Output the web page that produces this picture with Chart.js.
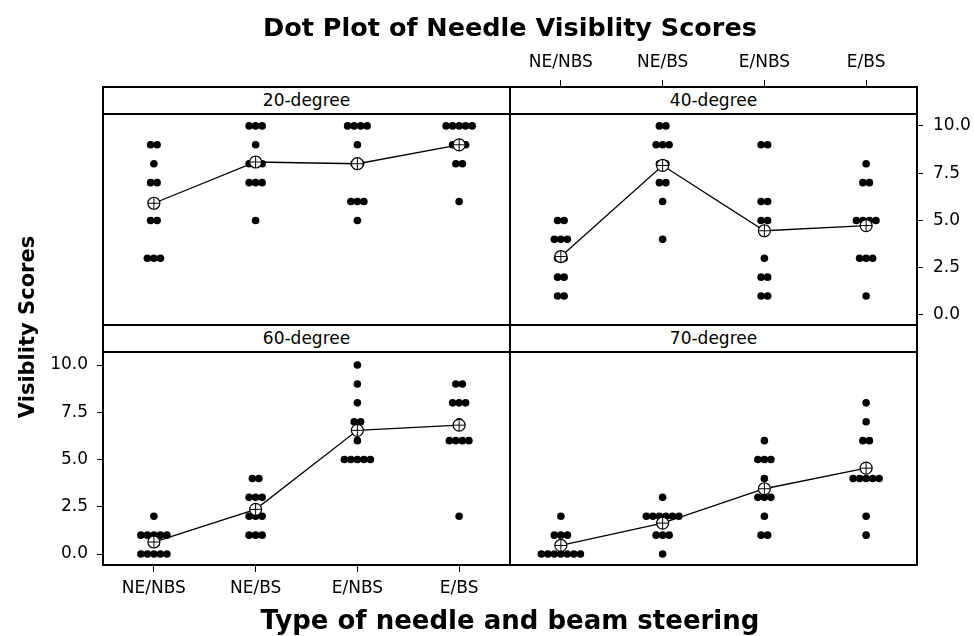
<!DOCTYPE html>
<html>
<head>
<meta charset="utf-8">
<title>Dot Plot of Needle Visiblity Scores</title>
<script src="https://cdn.jsdelivr.net/npm/chart.js@4.4.1/dist/chart.umd.min.js"></script>
<style>
  html, body { margin: 0; padding: 0; background: #fff; }
  #page {
    position: relative; width: 974px; height: 636px; overflow: hidden;
    font-family: 'DejaVu Sans', sans-serif; color: #000;
  }
  #page canvas { position: absolute; }
  .line { position: absolute; background: #000; }
  .strip {
    position: absolute; background: #fff; text-align: center;
    font-size: 17px; line-height: 27px;
  }
  .heading {
    position: absolute; text-align: center; font-weight: bold;
    line-height: 30px; white-space: nowrap;
  }
</style>
</head>
<body>
<div id="page">
  <div class="heading" style="left:103px; top:12px; width:814px; font-size:25.5px;">Dot Plot of Needle Visiblity Scores</div>
  <div class="heading" style="left:103px; top:605px; width:814px; font-size:26px;">Type of needle and beam steering</div>
  <div class="heading" style="left:-123px; top:312px; width:300px; font-size:21px; transform:rotate(-90deg);">Visiblity Scores</div>
</div>

<script>
// ---- data ----
const categories = ['NE/NBS', 'NE/BS', 'E/NBS', 'E/BS'];
const yTickValues = [0, 2.5, 5, 7.5, 10];
const panelLabels = ['20-degree', '40-degree', '60-degree', '70-degree'];

// visibility scores, one list per needle / beam steering type
const scores20 = [
    [9, 9, 8, 7, 7, 6, 5, 5, 3, 3, 3],
    [10, 10, 10, 9, 8, 8, 8, 7, 7, 7, 5],
    [10, 10, 10, 10, 9, 8, 8, 6, 6, 6, 5],
    [10, 10, 10, 10, 10, 9, 9, 9, 8, 8, 6]
];
const scores40 = [
    [5, 5, 4, 4, 4, 3, 3, 2, 2, 1, 1],
    [10, 10, 9, 9, 9, 8, 8, 7, 7, 6, 4],
    [9, 9, 6, 6, 5, 5, 3, 2, 2, 1, 1],
    [8, 7, 7, 5, 5, 5, 5, 3, 3, 3, 1]
];
const scores60 = [
    [2, 1, 1, 1, 1, 1, 0, 0, 0, 0, 0],
    [4, 4, 3, 3, 3, 2, 2, 2, 1, 1, 1],
    [10, 9, 8, 7, 7, 6, 5, 5, 5, 5, 5],
    [9, 9, 8, 8, 8, 7, 6, 6, 6, 6, 2]
];
const scores70 = [
    [2, 1, 1, 1, 0, 0, 0, 0, 0, 0, 0],
    [3, 2, 2, 2, 2, 2, 2, 1, 1, 1, 0],
    [6, 5, 5, 5, 4, 3, 3, 3, 2, 1, 1],
    [8, 7, 6, 6, 4, 4, 4, 4, 4, 2, 1]
];

// ---- layout (page pixels) ----
const FRAME_L = 103, FRAME_M = 510, FRAME_R = 917;
const STRIP1 = 87, PLOT1 = 114, STRIP2 = 325, PLOT2 = 352, FRAME_B = 565;
const Y_MIN = [-0.53, -0.58];
const Y_MAX = [10.63, 10.69];
const DOT_STEP = 0.064;   // horizontal spacing of tied dots, in category units
const FONT = { family: "'DejaVu Sans', sans-serif", size: 17 };

const page = document.getElementById('page');

function dotPoints(groups) {
    const pts = [];
    groups.forEach((vals, ci) => {
        const counts = {};
        vals.forEach(v => { counts[v] = (counts[v] || 0) + 1; });
        Object.keys(counts).forEach(k => {
            const n = counts[k];
            for (let i = 0; i < n; i++) {
                pts.push({ x: ci + (i - (n - 1) / 2) * DOT_STEP, y: Number(k) });
            }
        });
    });
    return pts;
}

function meanPoints(groups) {
    return groups.map((vals, ci) => ({
        x: ci,
        y: vals.reduce((a, b) => a + b, 0) / vals.length
    }));
}

function addDiv(cls, left, top, width, height, text) {
    const d = document.createElement('div');
    d.className = cls;
    d.style.left = left + 'px';
    d.style.top = top + 'px';
    d.style.width = width + 'px';
    d.style.height = height + 'px';
    if (text) d.textContent = text;
    page.appendChild(d);
    return d;
}

// fixed axis box, no extra room for label overflow
function fixBox(s, size) {
    if (s.isHorizontal()) s.height = size;
    else s.width = size;
    s.paddingTop = 0;
    s.paddingBottom = 0;
    s.paddingLeft = 0;
    s.paddingRight = 0;
}

/**
 * One trellis panel. box = canvas rect, axes = which axes to show and their size
 */
function makePanel(groups, row, box, axes) {
    const canvas = document.createElement('canvas');
    canvas.width = box.w;
    canvas.height = box.h;
    canvas.style.left = box.x + 'px';
    canvas.style.top = box.y + 'px';
    page.appendChild(canvas);

    let yMax = Y_MAX[row];
    // top axis sits above the strip, so stretch the value range over the strip
    if (axes.top) {
        const plotH = STRIP2 - PLOT1;
        const perUnit = plotH / (Y_MAX[row] - Y_MIN[row]);
        yMax = Y_MAX[row] + (PLOT1 - STRIP1) / perUnit;
    }

    const xAxis = {
        type: 'linear',
        min: -0.5,
        max: 3.5,
        display: !!(axes.top || axes.bottom),
        position: axes.top ? 'top' : 'bottom',
        afterBuildTicks: s => { s.ticks = categories.map((c, i) => ({ value: i })); },
        afterFit: s => fixBox(s, axes.top || axes.bottom || 0),
        grid: { drawOnChartArea: false, drawTicks: true, tickLength: 7, color: '#000', lineWidth: 1 },
        border: { display: false },
        ticks: {
            color: '#000',
            font: FONT,
            padding: axes.top ? 7 : 6,
            maxRotation: 0,
            autoSkip: false,
            callback: v => categories[v]
        }
    };
    const yAxis = {
        type: 'linear',
        min: Y_MIN[row],
        max: yMax,
        display: !!(axes.left || axes.right),
        position: axes.right ? 'right' : 'left',
        afterBuildTicks: s => { s.ticks = yTickValues.map(v => ({ value: v })); },
        afterFit: s => fixBox(s, axes.left || axes.right || 0),
        grid: { drawOnChartArea: false, drawTicks: true, tickLength: 6, color: '#000', lineWidth: 1 },
        border: { display: false },
        ticks: {
            color: '#000',
            font: FONT,
            padding: axes.right ? 10 : 9,
            callback: v => v.toFixed(1)
        }
    };

    const means = meanPoints(groups);

    return new Chart(canvas.getContext('2d'), {
        type: 'scatter',
        data: {
            datasets: [
                {
                    // cross inside the mean symbol
                    data: means,
                    pointStyle: 'cross',
                    pointRadius: 6,
                    pointBorderColor: '#000',
                    pointBorderWidth: 1,
                    showLine: false,
                    order: 0
                },
                {
                    // connect line + open circle for the mean
                    data: means,
                    showLine: true,
                    borderColor: '#000',
                    borderWidth: 1.3,
                    pointStyle: 'circle',
                    pointRadius: 6,
                    pointBackgroundColor: '#fff',
                    pointBorderColor: '#000',
                    pointBorderWidth: 1.2,
                    order: 1
                },
                {
                    data: dotPoints(groups),
                    pointStyle: 'circle',
                    pointRadius: 3.8,
                    pointBackgroundColor: '#000',
                    pointBorderWidth: 0,
                    showLine: false,
                    order: 2
                }
            ]
        },
        options: {
            responsive: false,
            animation: false,
            devicePixelRatio: 1,
            layout: { autoPadding: false, padding: 0 },
            events: [],
            plugins: {
                legend: { display: false },
                tooltip: { enabled: false }
            },
            scales: { x: xAxis, y: yAxis }
        }
    });
}

// 20-degree: top-left, no axes
makePanel(scores20, 0,
    { x: FRAME_L, y: PLOT1, w: FRAME_M - FRAME_L, h: STRIP2 - PLOT1 }, {});
// 40-degree: top-right, x labels on top, y labels on right
makePanel(scores40, 0,
    { x: FRAME_M, y: 40, w: 974 - FRAME_M, h: STRIP2 - 40 },
    { top: STRIP1 - 40, right: 974 - FRAME_R });
// 60-degree: bottom-left, y labels on left, x labels at bottom
makePanel(scores60, 1,
    { x: 0, y: PLOT2, w: FRAME_M, h: 636 - PLOT2 },
    { left: FRAME_L, bottom: 636 - FRAME_B });
// 70-degree: bottom-right, no axes
makePanel(scores70, 1,
    { x: FRAME_M, y: PLOT2, w: FRAME_R - FRAME_M, h: FRAME_B - PLOT2 }, {});

// strips with panel names
addDiv('strip', FRAME_L, STRIP1, FRAME_M - FRAME_L, PLOT1 - STRIP1, panelLabels[0]);
addDiv('strip', FRAME_M, STRIP1, FRAME_R - FRAME_M, PLOT1 - STRIP1, panelLabels[1]);
addDiv('strip', FRAME_L, STRIP2, FRAME_M - FRAME_L, PLOT2 - STRIP2, panelLabels[2]);
addDiv('strip', FRAME_M, STRIP2, FRAME_R - FRAME_M, PLOT2 - STRIP2, panelLabels[3]);

// frame lines
[STRIP1, PLOT1, STRIP2, PLOT2, FRAME_B].forEach(y => {
    addDiv('line', FRAME_L - 1, y - 1, FRAME_R - FRAME_L + 2, 2);
});
[FRAME_L, FRAME_M, FRAME_R].forEach(x => {
    addDiv('line', x - 1, STRIP1 - 1, 2, FRAME_B - STRIP1 + 2);
});

// keep the headings above everything
page.querySelectorAll('.heading').forEach(h => page.appendChild(h));
</script>
</body>
</html>
